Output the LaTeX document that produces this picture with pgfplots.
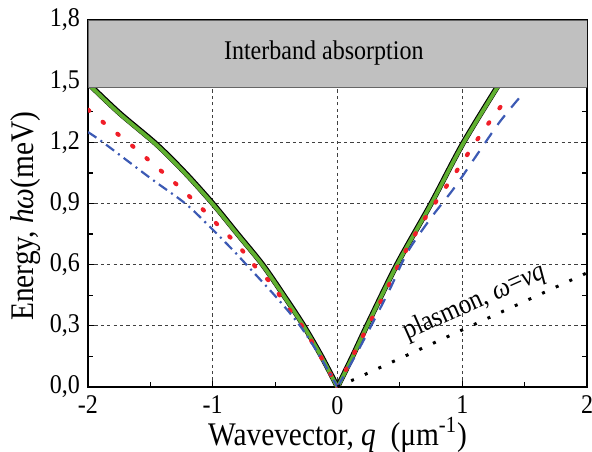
\documentclass[border=0pt]{standalone}
\usepackage{fontspec}
\setmainfont[FakeStretch=0.89]{Liberation Serif}
\usepackage{pgfplots}
\pgfplotsset{compat=1.18}
\definecolor{cgreen}{RGB}{96,176,48}
\definecolor{cblue}{RGB}{60,90,180}
\definecolor{cred}{RGB}{240,30,40}
\definecolor{boxgray}{RGB}{192,192,192}

\begin{document}
\begin{tikzpicture}
\useasboundingbox (-44pt,-32pt) rectangle (252pt,193.5pt);
\begin{axis}[
  scale only axis,
  width=249.5pt, height=183.5pt,
  xmin=-2, xmax=2, ymin=0, ymax=1.8,
  xtick={-2,-1,0,1,2},
  ytick={0,0.3,0.6,0.9,1.2,1.5,1.8},
  minor x tick num=1, minor y tick num=1,
  major tick length=3pt, minor tick length=2.5pt,
  tick style={black, line width=0.6pt},
  axis line style={black, line width=0.9pt},
  grid=major,
  grid style={black!75, line width=0.45pt, dash pattern=on 1.6pt off 1.6pt},
  /pgf/number format/assume math mode=true,
  xticklabel style={font=\fontsize{13.5}{14}\selectfont, yshift=-1pt},
  yticklabel style={font=\fontsize{13.5}{14}\selectfont, xshift=-0.5pt,
    /pgf/number format/.cd, use comma, fixed, precision=1, zerofill},
  xlabel={Wavevector, \textit{q}\ \ (μm\textsuperscript{-1})},
  ylabel={Energy, \textit{hω}(meV)},
  label style={font=\fontsize{16.5}{18}\selectfont},
  xlabel style={at={(axis description cs:0.5,-0.158)}, anchor=base},
  ylabel style={at={(axis description cs:-0.1096,0.465)}, anchor=base},
  every axis plot/.append style={line join=round},
]
\pgfplotsset{
  greenedge/.style={black, line width=2.7pt, smooth, tension=0.5},
  greenfill/.style={cgreen, line width=1.9pt, smooth, tension=0.5, yshift=-0.3pt},
  reddot/.style={cred, line width=2.1pt, line cap=round, dash pattern=on 0.8pt off 8.7pt, smooth, tension=0.5},
}
% green curve with black outline, left and right branch
\addplot[greenedge] coordinates {
  (-2,1.49) (-1.75,1.345) (-1.45,1.19) (-1.22,1.05) (-1.0,0.9) (-0.8,0.75)
  (-0.6,0.6) (-0.42,0.44) (-0.27,0.3) (-0.125,0.147) (0,0)};
\addplot[greenedge] coordinates {
  (0,0) (0.12,0.15) (0.235,0.3) (0.475,0.6) (0.75,0.9) (1.01,1.2) (1.33,1.52)};
\addplot[greenfill] coordinates {
  (-2,1.49) (-1.75,1.345) (-1.45,1.19) (-1.22,1.05) (-1.0,0.9) (-0.8,0.75)
  (-0.6,0.6) (-0.42,0.44) (-0.27,0.3) (-0.125,0.147) (0,0)};
\addplot[greenfill] coordinates {
  (0,0) (0.12,0.15) (0.235,0.3) (0.475,0.6) (0.75,0.9) (1.01,1.2) (1.33,1.52)};
% red dotted
\addplot[reddot] coordinates {
  (-2,1.36) (-1.83,1.274) (-1.72,1.22) (-1.606,1.163) (-1.49,1.10) (-1.38,1.042)
  (-1.26,0.977) (-1.15,0.913) (-1.04,0.847) (-0.93,0.776) (-0.82,0.71)
  (-0.72,0.638) (-0.63,0.569) (-0.525,0.504) (-0.41,0.40) (-0.286,0.3)
  (-0.14,0.155) (0,0)};
\addplot[reddot] coordinates {
  (0,0) (0.12,0.15) (0.245,0.3) (0.38,0.46) (0.517,0.633) (0.651,0.779) (0.793,0.912)
  (0.945,1.05) (1.098,1.193) (1.253,1.33) (1.34,1.40)};
% blue dash-dot (left)
\addplot[cblue, line width=1.1pt, smooth, tension=0.5, dash pattern=on 5pt off 2.5pt on 1pt off 2.5pt] coordinates {
  (-2,1.25) (-1.88,1.2) (-1.49,1.02) (-1.22,0.9) (-1.03,0.79) (-0.82,0.66)
  (-0.73,0.6) (-0.49,0.44) (-0.30,0.30) (-0.14,0.15) (0,0)};
% blue dashed (right)
\addplot[cblue, line width=1.1pt, smooth, tension=0.5, dash pattern=on 6pt off 5pt] coordinates {
  (0,0) (0.14,0.15) (0.27,0.3) (0.42,0.48) (0.56,0.66) (0.75,0.83)
  (0.94,0.98) (1.13,1.15) (1.30,1.30) (1.46,1.42)};
% plasmon
\addplot[black, line width=1.5pt, dash pattern=on 1.5pt off 6pt] coordinates {
  (0,0) (2,0.56)};
\node[rotate=24, anchor=base west, inner sep=0pt, font=\fontsize{14}{16}\selectfont]
  at (axis cs:0.56,0.232) {plasmon, \textit{ω}=\textit{vq}};
% interband absorption region
\draw[fill=boxgray, draw=black!60, line width=0.5pt]
  (axis cs:-2,1.47) rectangle (axis cs:2,1.8);
\node[font=\fontsize{13.5}{15}\selectfont] at (axis cs:-0.11,1.64) {Interband absorption};
\end{axis}
\end{tikzpicture}
\end{document}
